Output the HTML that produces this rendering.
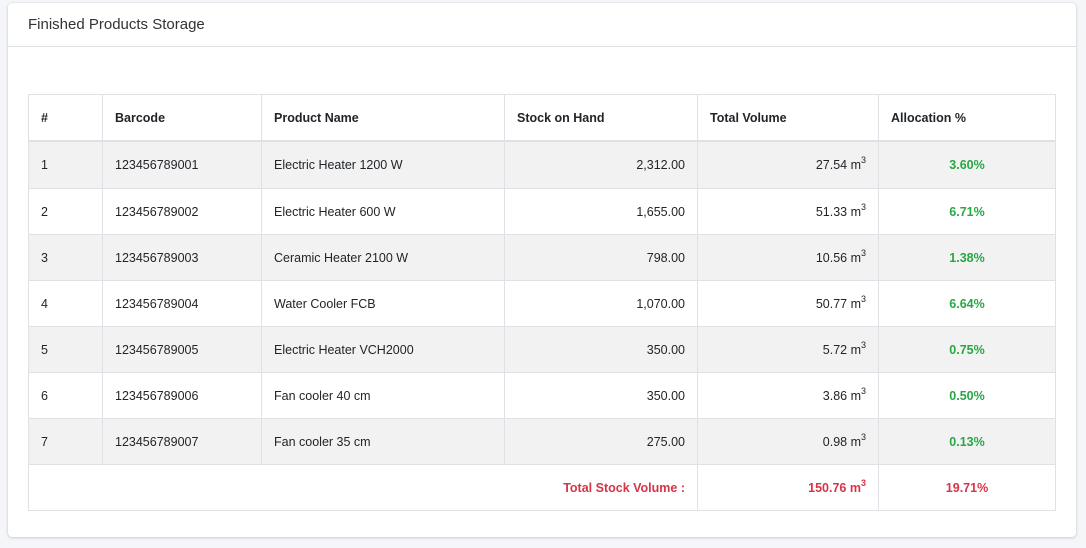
<!DOCTYPE html>
<html><head><style>
body{margin:0;background:#f4f6f9;font-family:"Liberation Sans",sans-serif;color:#212529;width:1086px;height:548px;overflow:hidden;position:relative}
.card{position:absolute;left:8px;top:3px;width:1068px;height:534px;background:#fff;border-radius:4px;box-shadow:0 0 1px rgba(0,0,0,.2),0 1px 3px rgba(0,0,0,.15)}
.hd{height:43px;border-bottom:1px solid #dee2e6;font-size:15px;line-height:43px;padding-left:20px;color:#333}
table{position:absolute;left:20px;top:91px;border-collapse:collapse;table-layout:fixed;font-size:12.5px}
td,th{border:1px solid #dee2e6;padding:0 12px;height:45px;text-align:left}
tbody tr:first-child td{height:46px}
th{font-weight:bold;border-bottom:2px solid #dee2e6;height:45px}
tbody tr:nth-child(odd){background:#f2f2f2}
tbody tr.t{background:#fff}
.r{text-align:right}.c{text-align:center}
.g{color:#28a745;font-weight:bold;text-align:center}
.red{color:#d63447;font-weight:bold}
sup{font-size:9px;vertical-align:6px;line-height:0}
</style></head><body>
<div class="card"><div class="hd">Finished Products Storage</div>
<table>
<colgroup><col style="width:74px"><col style="width:159px"><col style="width:243px"><col style="width:193px"><col style="width:181px"><col style="width:177px"></colgroup>
<thead><tr><th>#</th><th>Barcode</th><th>Product Name</th><th>Stock on Hand</th><th>Total Volume</th><th>Allocation %</th></tr></thead>
<tbody>
<tr><td>1</td><td>123456789001</td><td>Electric Heater 1200 W</td><td class="r">2,312.00</td><td class="r">27.54 m<sup>3</sup></td><td class="g">3.60%</td></tr>
<tr><td>2</td><td>123456789002</td><td>Electric Heater 600 W</td><td class="r">1,655.00</td><td class="r">51.33 m<sup>3</sup></td><td class="g">6.71%</td></tr>
<tr><td>3</td><td>123456789003</td><td>Ceramic Heater 2100 W</td><td class="r">798.00</td><td class="r">10.56 m<sup>3</sup></td><td class="g">1.38%</td></tr>
<tr><td>4</td><td>123456789004</td><td>Water Cooler FCB</td><td class="r">1,070.00</td><td class="r">50.77 m<sup>3</sup></td><td class="g">6.64%</td></tr>
<tr><td>5</td><td>123456789005</td><td>Electric Heater VCH2000</td><td class="r">350.00</td><td class="r">5.72 m<sup>3</sup></td><td class="g">0.75%</td></tr>
<tr><td>6</td><td>123456789006</td><td>Fan cooler 40 cm</td><td class="r">350.00</td><td class="r">3.86 m<sup>3</sup></td><td class="g">0.50%</td></tr>
<tr><td>7</td><td>123456789007</td><td>Fan cooler 35 cm</td><td class="r">275.00</td><td class="r">0.98 m<sup>3</sup></td><td class="g">0.13%</td></tr>
<tr class="t"><td colspan="4" class="r red">Total Stock Volume :</td><td class="r red">150.76 m<sup>3</sup></td><td class="c red">19.71%</td></tr>
</tbody></table></div>
</body></html>
